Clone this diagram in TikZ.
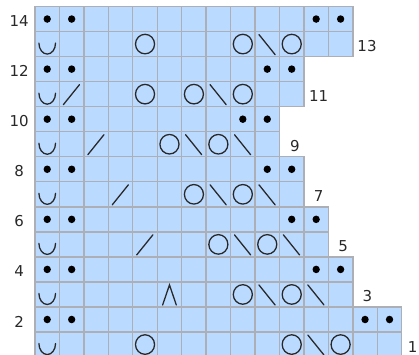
\documentclass[tikz,border=0pt]{standalone}
\usepackage{fontspec}
\setmainfont{DejaVu Sans}
\definecolor{chartblue}{RGB}{187,218,255}
\definecolor{chartgrid}{RGB}{172,176,182}
\definecolor{chartink}{RGB}{40,40,40}
\tikzset{
  cell/.style={fill=chartblue,draw=chartgrid,line width=1.2pt},
  symline/.style={draw=chartink,line width=1.1pt,line cap=round},
  rownum/.style={font=\fontsize{12.8}{15}\selectfont,text=chartink,inner sep=0pt},
  pics/purl/.style={code={\fill[black] (0,0) circle[radius=0.15];}},
  pics/yo/.style={code={\draw[symline] (0,0) circle[radius=0.39];}},
  pics/ssk/.style={code={\draw[symline] (-0.34,0.38) -- (0.32,-0.42);}},
  pics/ktog/.style={code={\draw[symline] (-0.34,-0.42) -- (0.32,0.38);}},
  pics/cdd/.style={code={\draw[symline] (-0.28,-0.42) -- (0,0.38) -- (0.28,-0.42);}},
  pics/slipst/.style={code={\draw[symline] (-0.34,0.04) arc[start angle=180,end angle=360,x radius=0.34,y radius=0.44];}}
}
\begin{document}
\begin{tikzpicture}[x=0.7335cm,y=0.7512cm]
\useasboundingbox (-1.4315,0.083) rectangle (15.706,14.26);
% cells, row by row (row/number of stitches)
\foreach \r/\n in {14/13,13/13,12/11,11/11,10/10,9/10,8/11,7/11,6/12,5/12,4/13,3/13,2/15,1/15}
  \foreach \c in {1,...,\n}
    \draw[cell] (\c-1,\r-1) rectangle (\c,\r);
% purl
\foreach \c/\r in {1/14,2/14,12/14,13/14,1/12,2/12,10/12,11/12,1/10,2/10,9/10,10/10,
  1/8,2/8,10/8,11/8,1/6,2/6,11/6,12/6,1/4,2/4,12/4,13/4,1/2,2/2,14/2,15/2}
  \pic at (\c-0.5,\r-0.5) {purl};
% slipped edge stitch
\foreach \r in {13,11,9,7,5,3,1}
  \pic at (0.5,\r-0.5) {slipst};
% yarn overs
\foreach \c/\r in {5/13,9/13,11/13,5/11,7/11,9/11,6/9,8/9,7/7,9/7,8/5,10/5,9/3,11/3,5/1,11/1,13/1}
  \pic at (\c-0.5,\r-0.5) {yo};
% decreases
\foreach \c/\r in {10/13,8/11,7/9,9/9,8/7,10/7,9/5,11/5,10/3,12/3,12/1}
  \pic at (\c-0.5,\r-0.5) {ssk};
\foreach \c/\r in {2/11,3/9,4/7,5/5}
  \pic at (\c-0.5,\r-0.5) {ktog};
\pic at (5.5,2.5) {cdd};
% row numbers
\node[rownum] (n14) at (-0.65,13.42) {14};
\node[rownum] (n12) at (-0.65,11.42) {12};
\node[rownum] (n10) at (-0.65,9.42) {10};
\node[rownum] (n8) at (-0.65,7.42) {8};
\node[rownum] (n6) at (-0.65,5.42) {6};
\node[rownum] (n4) at (-0.65,3.42) {4};
\node[rownum] (n2) at (-0.65,1.42) {2};
\node[rownum] (n13) at (13.58,12.42) {13};
\node[rownum] (n11) at (11.6,10.42) {11};
\node[rownum] (n9) at (10.63,8.42) {9};
\node[rownum] (n7) at (11.6,6.42) {7};
\node[rownum] (n5) at (12.6,4.42) {5};
\node[rownum] (n3) at (13.6,2.42) {3};
\node[rownum] (n1) at (15.45,0.42) {1};
\end{tikzpicture}
\end{document}
